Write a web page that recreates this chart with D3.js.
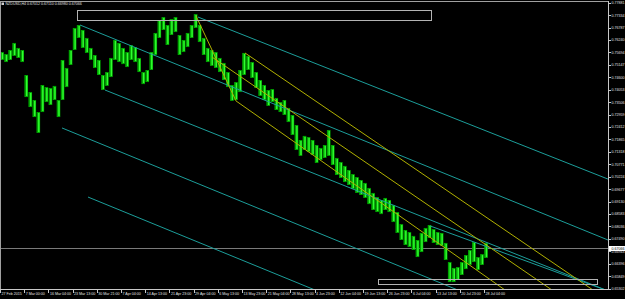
<!DOCTYPE html>
<html>
<head>
<meta charset="utf-8">
<script src="https://cdn.jsdelivr.net/npm/d3@7"></script>
<style>
  html, body { margin: 0; padding: 0; background: #000; overflow: hidden; }
  text { font-family: "Liberation Sans", Arial, sans-serif; }
</style>
</head>
<body>
<div id="chart"></div>
<script>
// NZDUSD H4 bars, high / low
var barHigh = [
  .7571,.7562,.7580,.7611,.7589,.7580,.7470,.7395,.7360,.7307,
  .7426,.7417,.7413,.7422,.7360,.7536,.7501,.7580,.7677,.7690,
  .7668,.7633,.7589,.7558,.7536,.7470,.7483,.7545,.7624,.7611,
  .7589,.7571,.7602,.7593,.7545,.7483,.7492,.7571,.7655,.7712,
  .7725,.7690,.7716,.7725,.7646,.7624,.7655,.7690,.7738,.7690,
  .7633,.7589,.7580,.7571,.7545,.7523,.7483,.7426,.7439,.7492,
  .7567,.7554,.7527,.7483,.7448,.7426,.7404,.7408,.7369,.7351,
  .7360,.7325,.7294,.7250,.7184,.7202,.7197,.7184,.7162,.7149,
  .7162,.7228,.7162,.7105,.7087,.7070,.7052,.7034,.7021,.7008,
  .6995,.6973,.6951,.6933,.6920,.6929,.6920,.6898,.6867,.6814,
  .6788,.6779,.6762,.6744,.6775,.6797,.6810,.6792,.6779,.6775,
  .6731,.6647,.6621,.6625,.6647,.6678,.6700,.6735,.6669,.6682,
  .6731
];
var barLow = [
  .7536,.7527,.7536,.7554,.7545,.7527,.7373,.7329,.7285,.7215,
  .7307,.7351,.7338,.7360,.7285,.7360,.7417,.7514,.7580,.7633,
  .7589,.7567,.7536,.7501,.7470,.7404,.7422,.7461,.7536,.7527,
  .7518,.7505,.7536,.7527,.7483,.7430,.7439,.7492,.7558,.7633,
  .7668,.7602,.7646,.7659,.7558,.7571,.7593,.7633,.7677,.7615,
  .7558,.7527,.7510,.7501,.7483,.7448,.7417,.7356,.7360,.7395,
  .7470,.7492,.7457,.7413,.7378,.7360,.7334,.7351,.7316,.7307,
  .7294,.7263,.7206,.7140,.7114,.7140,.7131,.7118,.7083,.7096,
  .7105,.7114,.7074,.7030,.7017,.6999,.6986,.6968,.6951,.6942,
  .6929,.6902,.6876,.6867,.6858,.6876,.6867,.6823,.6775,.6744,
  .6722,.6713,.6700,.6669,.6691,.6735,.6753,.6731,.6722,.6718,
  .6656,.6559,.6559,.6568,.6590,.6616,.6634,.6647,.6612,.6634,
  .6665
];

var timeLabels = ["27 Feb 2015", "7 Mar 00:00", "16 Mar 04:00", "23 Mar 13:00", "30 Mar 21:00",
  "7 Apr 04:00", "14 Apr 13:00", "21 Apr 23:00", "29 Apr 04:00", "6 May 13:00", "13 May 23:00",
  "21 May 04:00", "28 May 13:00", "4 Jun 23:00", "12 Jun 04:00", "19 Jun 13:00", "26 Jun 23:00",
  "6 Jul 04:00", "13 Jul 13:00", "20 Jul 23:00", "28 Jul 04:00"];

var priceTicks = [0.77881, 0.77334, 0.76787, 0.76240, 0.75694, 0.75147, 0.74600, 0.74053,
  0.73506, 0.72959, 0.72412, 0.71865, 0.71318, 0.70771, 0.70224, 0.69677, 0.69130, 0.68583,
  0.68036, 0.67490, 0.66943, 0.66396, 0.65849, 0.65302];

var lastPrice = 0.67066;

// trend lines: [bar slot, price] -> [bar slot, price]
var cyanLines = [
  [19.84, .7690, 150.75, .6744],
  [49.09, .7725, 150.75, .7012],
  [26.03, .7404, 150.75, .6520],
  [106.62, .6806, 150.75, .6520],
  [15.37, .7237, 114.05, .6520],
  [21.82, .6933, 78.10, .6524]
];
var yellowLines = [
  [48.60, .7730, 58.51, .7356],
  [58.51, .7356, 125.21, .6524],
  [52.56, .7549, 136.86, .6524],
  [60.75, .7567, 147.03, .6524]
];
var boxes = [
  [19.09, .7756, 106.86, .7712],
  [93.72, .6572, 148.02, .6550]
];

var width = 625, height = 299;
var plotRight = 608, plotBottom = 289;
var labelEvery = 6;

var svg = d3.select("#chart").append("svg")
  .attr("width", width)
  .attr("height", height)
  .style("display", "block")
  .style("background", "#000");

var xScale = d3.scaleLinear().domain([0, 150.75]).range([0, plotRight]);
var yScale = d3.scaleLinear().domain([0.65284, 0.78]).range([plotBottom, 0]);

svg.append("clipPath").attr("id", "plotClip")
  .append("rect").attr("x", 0).attr("y", 1.5)
  .attr("width", plotRight).attr("height", plotBottom - 1.5);

var plot = svg.append("g").attr("clip-path", "url(#plotClip)");

// current price line
plot.append("line")
  .attr("x1", 0).attr("x2", plotRight)
  .attr("y1", Math.round(yScale(lastPrice)) + 0.5)
  .attr("y2", Math.round(yScale(lastPrice)) + 0.5)
  .style("stroke", "#7a7a7a").style("stroke-width", 1);

// bars
var bars = plot.append("g").attr("class", "bars");
bars.selectAll("rect")
  .data(barHigh)
  .enter().append("rect")
  .attr("x", function(d, i) { return xScale(i + 0.5) - 1.8; })
  .attr("y", function(d) { return yScale(d); })
  .attr("width", 3.6)
  .attr("height", function(d, i) { return yScale(barLow[i]) - yScale(d); })
  .attr("fill", "#00a400");
bars.selectAll("line")
  .data(barHigh)
  .enter().append("line")
  .attr("x1", function(d, i) { return xScale(i + 0.5) + 0.5; })
  .attr("x2", function(d, i) { return xScale(i + 0.5) + 0.5; })
  .attr("y1", function(d) { return yScale(d) + 1; })
  .attr("y2", function(d, i) { return yScale(barLow[i]) - 1; })
  .style("stroke", "#30ff30").style("stroke-width", 1.4);

function drawLines(list, colour) {
  plot.append("g").selectAll("line")
    .data(list)
    .enter().append("line")
    .attr("x1", function(d) { return xScale(d[0]); })
    .attr("y1", function(d) { return yScale(d[1]); })
    .attr("x2", function(d) { return xScale(d[2]); })
    .attr("y2", function(d) { return yScale(d[3]); })
    .style("stroke", colour)
    .style("stroke-width", 1);
}
drawLines(cyanLines, "#1c9e9a");
drawLines(yellowLines, "#b0b000");

plot.append("g").selectAll("rect")
  .data(boxes)
  .enter().append("rect")
  .attr("x", function(d) { return Math.round(xScale(d[0])) + 0.5; })
  .attr("y", function(d) { return Math.round(yScale(d[1])) + 0.5; })
  .attr("width", function(d) { return Math.round(xScale(d[2]) - xScale(d[0])); })
  .attr("height", function(d) { return Math.round(yScale(d[3]) - yScale(d[1])); })
  .attr("fill", "none")
  .style("stroke", "#b4b4b4").style("stroke-width", 1);

// frame
svg.append("line").attr("x1", 0).attr("x2", plotRight + 0.5).attr("y1", 1.5).attr("y2", 1.5)
  .style("stroke", "#a0a0a0").style("stroke-width", 1);
svg.append("line").attr("x1", 0.5).attr("x2", 0.5).attr("y1", 1.5).attr("y2", plotBottom + 0.5)
  .style("stroke", "#a0a0a0").style("stroke-width", 1);
svg.append("line").attr("x1", plotRight + 0.5).attr("x2", plotRight + 0.5).attr("y1", 1).attr("y2", plotBottom + 0.5)
  .style("stroke", "#c8c8c8").style("stroke-width", 1);
svg.append("line").attr("x1", 0).attr("x2", plotRight + 0.5).attr("y1", plotBottom + 0.5).attr("y2", plotBottom + 0.5)
  .style("stroke", "#c8c8c8").style("stroke-width", 1);

// price axis
var yAxis = svg.append("g").attr("class", "priceAxis");
yAxis.selectAll("line")
  .data(priceTicks)
  .enter().append("line")
  .attr("x1", plotRight).attr("x2", plotRight + 3)
  .attr("y1", function(d) { return Math.round(yScale(d)) + 0.5; })
  .attr("y2", function(d) { return Math.round(yScale(d)) + 0.5; })
  .style("stroke", "#c8c8c8").style("stroke-width", 1);
yAxis.selectAll("text")
  .data(priceTicks)
  .enter().append("text")
  .attr("x", plotRight + 3.5)
  .attr("y", function(d) { return yScale(d) + 1.4; })
  .attr("fill", "#e0e0e0")
  .attr("font-size", 3.6)
  .text(function(d) { return d3.format(".5f")(d); });

// last price tag
var tagY = yScale(lastPrice);
svg.append("rect").attr("x", plotRight + 1).attr("y", tagY - 2.5)
  .attr("width", 16).attr("height", 5).attr("fill", "#ffffff");
svg.append("text").attr("x", plotRight + 3.5).attr("y", tagY + 1.4)
  .attr("fill", "#000").attr("font-size", 3.6)
  .text(d3.format(".5f")(lastPrice));

// time axis
var xAxis = svg.append("g").attr("class", "timeAxis");
xAxis.selectAll("line")
  .data(timeLabels)
  .enter().append("line")
  .attr("x1", function(d, i) { return Math.round(xScale(i * labelEvery)) + 0.5; })
  .attr("x2", function(d, i) { return Math.round(xScale(i * labelEvery)) + 0.5; })
  .attr("y1", plotBottom).attr("y2", plotBottom + 4)
  .style("stroke", "#c8c8c8").style("stroke-width", 1);
xAxis.selectAll("text")
  .data(timeLabels)
  .enter().append("text")
  .attr("x", function(d, i) { return xScale(i * labelEvery) + 1.5; })
  .attr("y", plotBottom + 6)
  .attr("fill", "#e0e0e0")
  .attr("font-size", 3.6)
  .text(function(d) { return d; });

// title
svg.append("rect").attr("x", 1.5).attr("y", 2.5).attr("width", 2.5).attr("height", 2.5)
  .attr("fill", "#d0d0d0");
svg.append("text").attr("x", 5.5).attr("y", 5.3)
  .attr("fill", "#e0e0e0").attr("font-size", 3.6)
  .text("NZDUSD,H4  0.67012 0.67110 0.66980 0.67066");
</script>
</body>
</html>
